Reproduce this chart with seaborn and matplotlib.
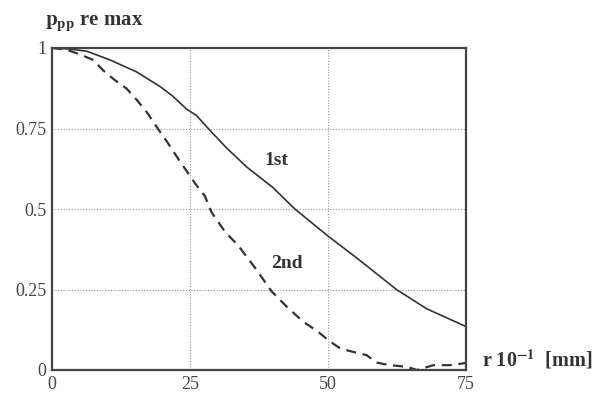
import numpy as np
import pandas as pd
import matplotlib
matplotlib.use("Agg")
import matplotlib.pyplot as plt
import seaborn as sns

# values (r in 10^-1 mm, relative p_pp)
r_first = [0, 3, 6.3, 10.5, 15.3, 19.6, 21.9, 24.4, 26.2, 28.3, 31.6, 35.3,
           40, 44, 50, 55.2, 62.4, 67.9, 75]
p_first = [1.0, 0.997, 0.99, 0.963, 0.926, 0.88, 0.85, 0.81, 0.79, 0.75, 0.69, 0.63,
           0.567, 0.5, 0.416, 0.348, 0.25, 0.19, 0.135]

r_second = [0, 2.5, 5.1, 7.5, 9.3, 11.4, 13.5, 15.3, 17.2, 19, 20.8, 22.9, 24.7,
            25.9, 27.7, 28.9, 31.3, 33.8, 36.8, 39.8, 42.5, 45.5, 48.2, 50, 52.2,
            54.6, 57, 58.8, 61.2, 64.3, 66.1, 69.1, 72.1, 75]
p_second = [1.0, 0.995, 0.98, 0.9625, 0.93, 0.9, 0.874, 0.84, 0.8, 0.754, 0.71,
            0.655, 0.61, 0.58, 0.54, 0.49, 0.43, 0.385, 0.317, 0.244, 0.197, 0.15,
            0.119, 0.093, 0.067, 0.056, 0.046, 0.023, 0.015, 0.01, 0.0, 0.015,
            0.015, 0.022]

x_ticks = [0, 25, 50, 75]
y_ticks = [0, 0.25, 0.5, 0.75, 1]
y_tick_labels = ["0", "0.25", "0.5", "0.75", "1"]

sns.set_theme(style="white")
plt.rcParams["font.family"] = ["Liberation Serif", "DejaVu Serif"]
plt.rcParams["mathtext.fontset"] = "stix"

ink = "#333333"

fig = plt.figure(figsize=(5.97, 3.96), dpi=100)
ax = fig.add_axes([52 / 597, 26 / 396, 414 / 597, 322 / 396])

first = pd.DataFrame({"r": r_first, "p": p_first})
second = pd.DataFrame({"r": r_second, "p": p_second})

sns.lineplot(data=first, x="r", y="p", ax=ax, color=ink, linewidth=1.2)
sns.lineplot(data=second, x="r", y="p", ax=ax, color=ink, linewidth=1.6,
             linestyle=(0, (4.5, 3)))

ax.set_xlim(0, 75)
ax.set_ylim(0, 1)
ax.set_xticks(x_ticks)
ax.set_xticklabels([str(t) for t in x_ticks])
ax.set_yticks(y_ticks)
ax.set_yticklabels(y_tick_labels)
ax.set_xlabel("")
ax.set_ylabel("")

# dotted inner grid
for gx in [25, 50]:
    ax.axvline(gx, color="#999999", linestyle=(0, (1, 1.5)), linewidth=0.8, zorder=0)
for gy in [0.25, 0.5, 0.75]:
    ax.axhline(gy, color="#999999", linestyle=(0, (1, 1.5)), linewidth=0.8, zorder=0)

for s in ax.spines.values():
    s.set_color("#444444")
    s.set_linewidth(1.6)

ax.tick_params(length=0, labelsize=13, labelcolor="#444444")
ax.tick_params(axis="y", pad=4)
ax.tick_params(axis="x", pad=4)

ax.text(40.7, 0.65, "1st", fontsize=14, fontweight="bold", color=ink,
        ha="center", va="center")
ax.text(42.6, 0.33, "2nd", fontsize=14, fontweight="bold", color=ink,
        ha="center", va="center")

fig.text(45 / 597, 1 - 26 / 396, r"$\mathbf{p_{pp}}$ re max", fontsize=15,
         fontweight="bold", color=ink, va="baseline")
fig.text(482 / 597, 1 - 366 / 396, r"r 10$^{\mathbf{-1}}$  [mm]", fontsize=14.5,
         fontweight="bold", color=ink, va="baseline")

fig.savefig("out.png", dpi=100, facecolor="white")
